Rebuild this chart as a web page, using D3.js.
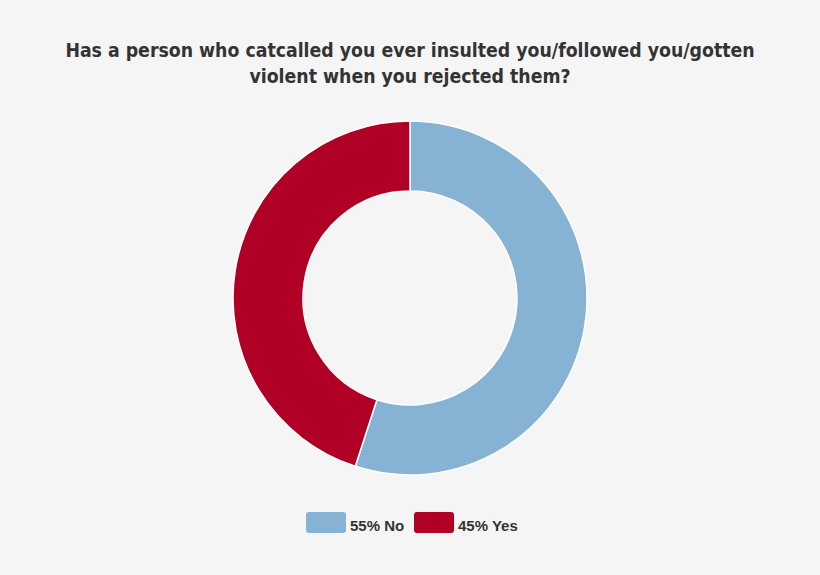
<!DOCTYPE html>
<html>
<head>
<meta charset="utf-8">
<script src="https://cdn.jsdelivr.net/npm/d3@7"></script>
<style>
  html, body { margin: 0; padding: 0; background: #f5f5f5; }
  svg { display: block; }
</style>
</head>
<body>
<script>
var titleLines = ["Has a person who catcalled you ever insulted you/followed you/gotten",
                  "violent when you rejected them?"];
var labels = ["No", "Yes"];
var values = [55, 45];
var colors = ["#86b3d3", "#b10026"];

var width = 820, height = 575;
var cx = 410, cy = 298, outerR = 177, innerR = 107;

var svg = d3.select("body").append("svg")
    .attr("width", width)
    .attr("height", height);

svg.append("rect")
    .attr("width", width)
    .attr("height", height)
    .attr("fill", "#f5f5f5");

svg.append("g")
    .selectAll("text")
    .data(titleLines)
    .enter()
    .append("text")
    .attr("x", width / 2)
    .attr("y", (d, i) => 57 + i * 26)
    .attr("text-anchor", "middle")
    .attr("font-family", "'DejaVu Sans Condensed', 'DejaVu Sans', sans-serif")
    .attr("font-weight", "bold")
    .attr("font-size", "19.3px")
    .attr("fill", "#333")
    .text(d => d);

var pie = d3.pie().sort(null).value(d => d);
var arc = d3.arc().innerRadius(innerR).outerRadius(outerR);

var chart = svg.append("g")
    .attr("transform", "translate(" + cx + "," + cy + ")");

chart.selectAll("path")
    .data(pie(values))
    .enter()
    .append("path")
    .attr("d", arc)
    .attr("fill", (d, i) => colors[i])
    .attr("stroke", "#ffffff")
    .attr("stroke-width", 1.5);

// legend
var legendX = [306, 414];
var legend = svg.append("g").selectAll("g")
    .data(labels)
    .enter()
    .append("g")
    .attr("transform", (d, i) => "translate(" + legendX[i] + ",512)");

legend.append("rect")
    .attr("width", 40)
    .attr("height", 21)
    .attr("rx", 3)
    .attr("fill", (d, i) => colors[i]);

legend.append("text")
    .attr("x", 44)
    .attr("y", 19)
    .attr("font-family", "'Liberation Sans', Arial, sans-serif")
    .attr("font-weight", "bold")
    .attr("font-size", "15px")
    .attr("fill", "#333")
    .text((d, i) => values[i] + "% " + d);
</script>
</body>
</html>
